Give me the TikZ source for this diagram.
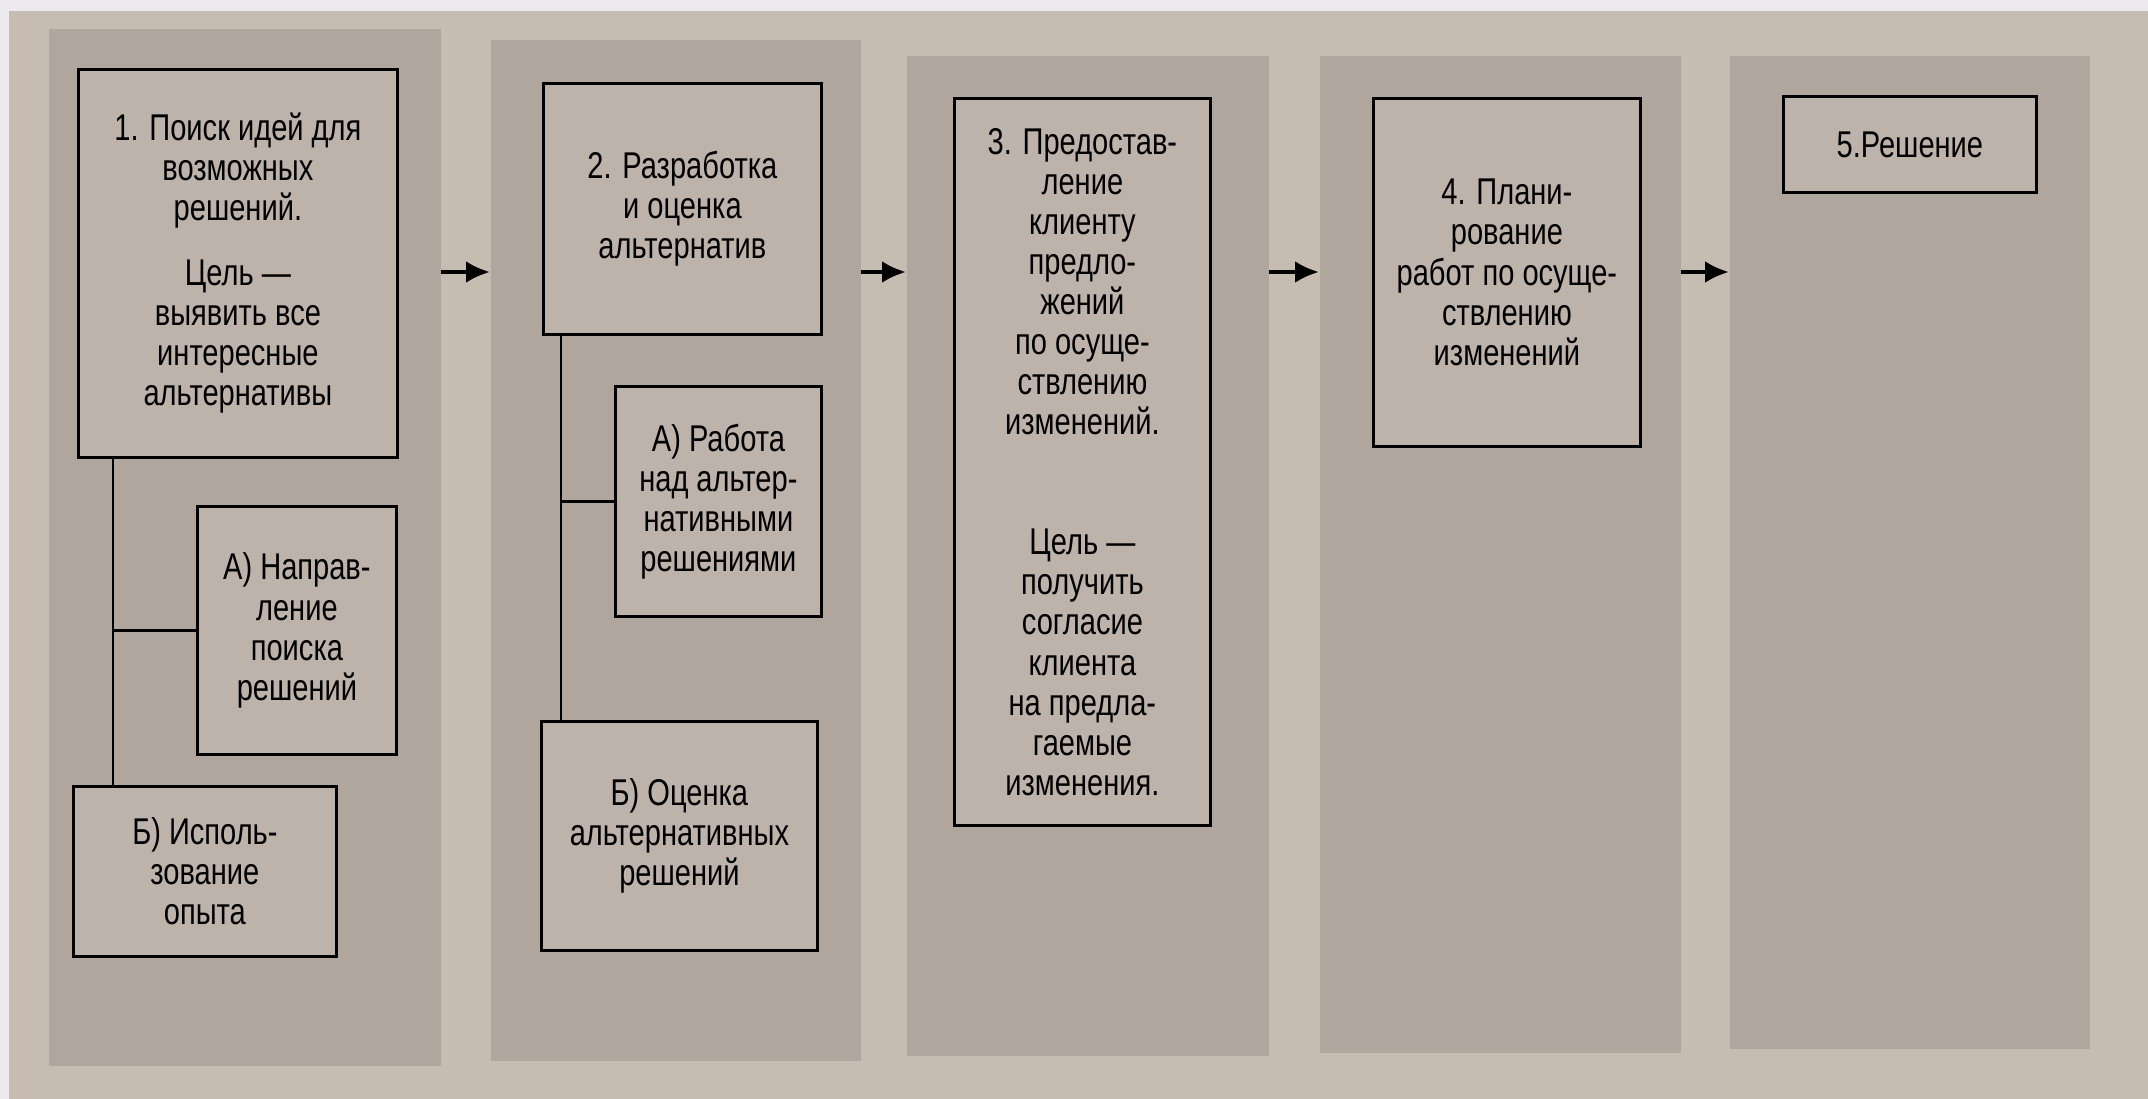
\documentclass[tikz,border=0pt]{standalone}
\usepackage{fontspec}
\setmainfont{Liberation Sans}[FakeStretch=0.78]
\usetikzlibrary{arrows.meta}
\definecolor{slidebg}{RGB}{236,234,238}
\definecolor{pagebg}{RGB}{199,188,178}
\definecolor{colbg}{RGB}{176,166,158}
\definecolor{boxbg}{RGB}{189,179,170}

\begin{document}
\begin{tikzpicture}[x=0.1mm,y=-0.1mm,
  font=\fontsize{10.6}{11.4}\selectfont,
  col/.style={fill=colbg,inner sep=0pt,anchor=north west},
  box/.style={draw,line width=0.8pt,fill=boxbg,anchor=north west,align=center,inner sep=2pt},
  link/.style={line width=0.8pt},
  flow/.style={-{Latex[length=2.4mm,width=2.2mm]},line width=1.2pt},
]
% page
\fill[slidebg] (0,0) rectangle (2148,1099);
\fill[pagebg] (9,11) rectangle (2148,1099);
\useasboundingbox (0,0) rectangle (2148,1099);

% shaded columns
\node[col,minimum width=39.2mm,minimum height=103.7mm] (c1) at (48,28) {};
\node[col,minimum width=37mm,minimum height=102.1mm]   (c2) at (490,39) {};
\node[col,minimum width=36.2mm,minimum height=100mm]   (c3) at (906,55) {};
\node[col,minimum width=36.1mm,minimum height=99.7mm]  (c4) at (1319,55) {};
\node[col,minimum width=36mm,minimum height=99.3mm]    (c5) at (1729,55) {};

% stage 1
\node[box,minimum width=31.9mm,minimum height=38.8mm] (b1) at (77,68)
  {1. Поиск идей для\\возможных\\решений.\\[7pt]Цель —\\выявить все\\интересные\\альтернативы};
\node[box,minimum width=19.9mm,minimum height=24.8mm] (b1a) at (196,505) {А) Направ-\\ление\\поиска\\решений};
\node[box,minimum width=26.3mm,minimum height=17mm]   (b1b) at (72,785) {Б) Исполь-\\зование\\опыта};

% stage 2
\node[box,minimum width=27.8mm,minimum height=25.1mm] (b2) at (542,82) {2. Разработка\\и оценка\\альтернатив};
\node[box,minimum width=20.6mm,minimum height=23mm]   (b2a) at (614,385) {А) Работа\\над альтер-\\нативными\\решениями};
\node[box,minimum width=27.6mm,minimum height=22.9mm] (b2b) at (540,720) {Б) Оценка\\альтернативных\\решений};

% stages 3-5
\node[box,minimum width=25.6mm,minimum height=72.7mm] (b3) at (953,97)
  {3. Предостав-\\ление\\клиенту\\предло-\\жений\\по осуще-\\ствлению\\изменений.\\[22.8pt]Цель —\\получить\\согласие\\клиента\\на предла-\\гаемые\\изменения.};
\node[box,minimum width=26.7mm,minimum height=34.8mm] (b4) at (1372,97) {4. Плани-\\рование\\работ по осуще-\\ствлению\\изменений};
\node[box,minimum width=25.3mm,minimum height=9.6mm]  (b5) at (1782,95) {5.Решение};

% sub-step links
\coordinate (s1) at ([xshift=3.6mm]b1.south west);
\draw[link] (s1) -- (s1 |- b1b.north);
\draw[link] (b1a.west) -- (b1a.west -| s1);
\coordinate (s2) at ([xshift=1.9mm]b2.south west);
\draw[link] (s2) -- (s2 |- b2b.north);
\draw[link] (b2a.west) -- (b2a.west -| s2);

% arrows between stages
\coordinate (lvl) at (0,272);
\foreach \a/\b in {c1/c2,c2/c3,c3/c4,c4/c5} \draw[flow] (\a.east |- lvl) -- (\b.west |- lvl);
\end{tikzpicture}
\end{document}
